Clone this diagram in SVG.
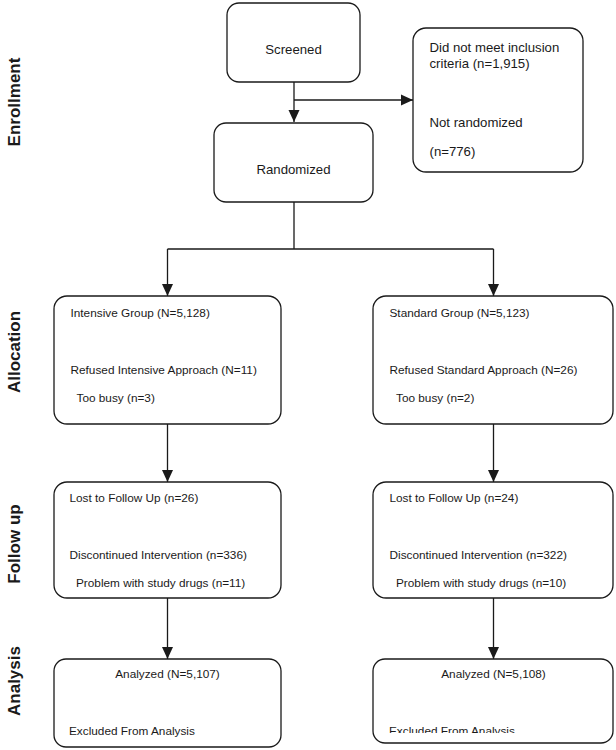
<svg xmlns="http://www.w3.org/2000/svg" width="616" height="750" viewBox="0 0 616 750">
<style>
.box{fill:#fff;stroke:#1a1a1a;stroke-width:1.3}
.t{font-family:"Liberation Sans",Arial,sans-serif;font-size:11.8px;fill:#1a1a1a}
.tb{font-size:13.2px}
.c{text-anchor:middle}
.lab{font-family:"Liberation Sans",Arial,sans-serif;font-size:17px;font-weight:bold;fill:#1a1a1a;text-anchor:middle}
.ln{fill:none;stroke:#1a1a1a;stroke-width:1.3}
</style>
<defs>
<marker id="ah" markerUnits="userSpaceOnUse" markerWidth="12" markerHeight="12" viewBox="0 0 12 12" refX="12" refY="6" orient="auto">
<path d="M0,0.5 L12,6 L0,11.5 Z" fill="#1a1a1a"/>
</marker>
<clipPath id="cut"><rect x="373" y="659" width="240" height="74"/></clipPath>
</defs>
<rect width="616" height="750" fill="#fff"/>
<g id="stage-labels">
<text class="lab" transform="translate(20,102) rotate(-90)">Enrollment</text>
<text class="lab" transform="translate(20,352) rotate(-90)">Allocation</text>
<text class="lab" transform="translate(20,544) rotate(-90)">Follow up</text>
<text class="lab" transform="translate(20,681) rotate(-90)">Analysis</text>
</g>
<g id="connectors">
<path class="ln" d="M294,82 V122" marker-end="url(#ah)"/>
<path class="ln" d="M294,100 H413" marker-end="url(#ah)"/>
<path class="ln" d="M294,202 V249 M167.5,249 H493.5"/>
<path class="ln" d="M167.5,249 V296" marker-end="url(#ah)"/>
<path class="ln" d="M493.5,249 V296" marker-end="url(#ah)"/>
<path class="ln" d="M167.5,424 V482" marker-end="url(#ah)"/>
<path class="ln" d="M493.5,424 V482" marker-end="url(#ah)"/>
<path class="ln" d="M167.5,598 V659" marker-end="url(#ah)"/>
<path class="ln" d="M493.5,598 V659" marker-end="url(#ah)"/>
</g>
<g id="screened">
<rect class="box" x="227" y="3" width="133" height="79" rx="12"/>
<text class="t tb c" x="293.5" y="54">Screened</text>
</g>
<g id="excluded">
<rect class="box" x="413" y="28" width="170" height="144" rx="13"/>
<text class="t tb" x="429.5" y="52">Did not meet inclusion</text>
<text class="t tb" x="429.5" y="68">criteria (n=1,915)</text>
<text class="t tb" x="429.5" y="127">Not randomized</text>
<text class="t tb" x="429.5" y="156">(n=776)</text>
</g>
<g id="randomized">
<rect class="box" x="214" y="123" width="159" height="79" rx="12"/>
<text class="t tb c" x="293.5" y="174">Randomized</text>
</g>
<g id="intensive">
<rect class="box" x="54" y="296" width="227" height="128" rx="13"/>
<text class="t" x="70.5" y="317">Intensive Group (N=5,128)</text>
<text class="t" x="70.5" y="374">Refused Intensive Approach (N=11)</text>
<text class="t" x="76.5" y="402">Too busy (n=3)</text>
</g>
<g id="standard">
<rect class="box" x="373" y="296" width="240" height="128" rx="13"/>
<text class="t" x="389.5" y="317">Standard Group (N=5,123)</text>
<text class="t" x="389.5" y="374">Refused Standard Approach (N=26)</text>
<text class="t" x="396" y="402">Too busy (n=2)</text>
</g>
<g id="followup-intensive">
<rect class="box" x="54" y="482" width="227" height="116" rx="13"/>
<text class="t" x="69.5" y="502">Lost to Follow Up (n=26)</text>
<text class="t" x="69.5" y="559">Discontinued Intervention (n=336)</text>
<text class="t" x="76" y="587">Problem with study drugs (n=11)</text>
</g>
<g id="followup-standard">
<rect class="box" x="373" y="482" width="240" height="116" rx="13"/>
<text class="t" x="389.5" y="502">Lost to Follow Up (n=24)</text>
<text class="t" x="389.5" y="559">Discontinued Intervention (n=322)</text>
<text class="t" x="396" y="587">Problem with study drugs (n=10)</text>
</g>
<g id="analysis-intensive">
<rect class="box" x="54" y="659" width="227" height="88" rx="12"/>
<text class="t c" x="167.5" y="678">Analyzed (N=5,107)</text>
<text class="t" x="69" y="735">Excluded From Analysis</text>
</g>
<g id="analysis-standard">
<rect class="box" x="373" y="659" width="240" height="84" rx="12"/>
<text class="t c" x="493.5" y="678">Analyzed (N=5,108)</text>
<text class="t" x="389" y="735" clip-path="url(#cut)">Excluded From Analysis</text>
</g>
</svg>
